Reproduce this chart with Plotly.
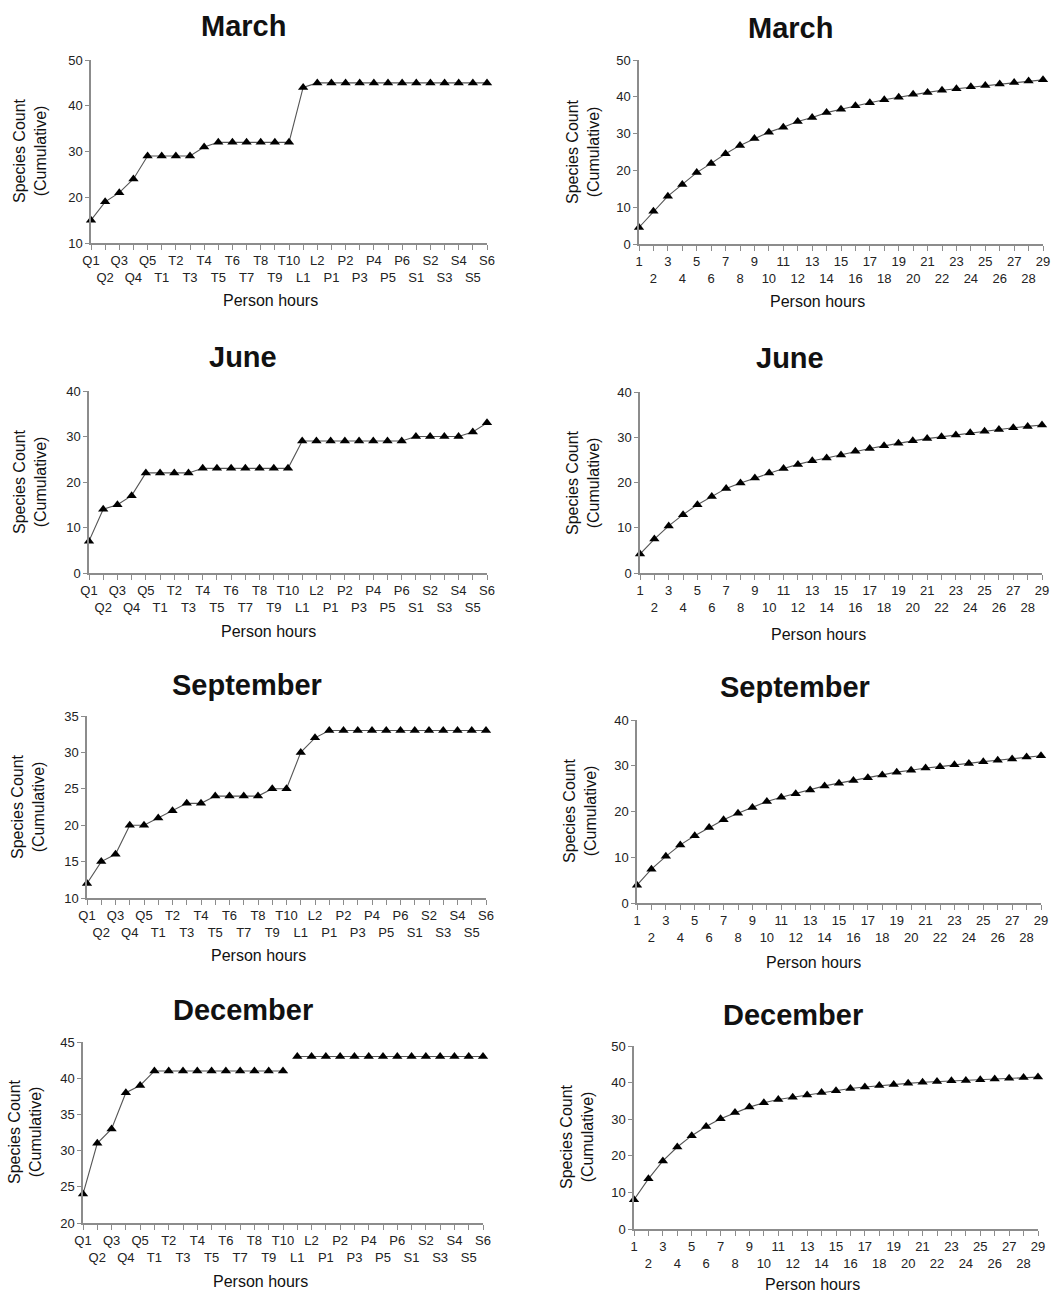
import plotly.graph_objects as go

# ---------------- data ----------------
categories = ["Q1", "Q2", "Q3", "Q4", "Q5",
              "T1", "T2", "T3", "T4", "T5", "T6", "T7", "T8", "T9", "T10",
              "L1", "L2",
              "P1", "P2", "P3", "P4", "P5", "P6",
              "S1", "S2", "S3", "S4", "S5", "S6"]
hours = list(range(1, 30))
months = ["March", "June", "September", "December"]

march_cum = [15, 19, 21, 24, 29, 29, 29, 29, 31, 32, 32, 32, 32, 32, 32,
             44, 45, 45, 45, 45, 45, 45, 45, 45, 45, 45, 45, 45, 45]
june_cum = [7, 14, 15, 17, 22, 22, 22, 22, 23, 23, 23, 23, 23, 23, 23,
            29, 29, 29, 29, 29, 29, 29, 29, 30, 30, 30, 30, 31, 33]
sept_cum = [12, 15, 16, 20, 20, 21, 22, 23, 23, 24, 24, 24, 24, 25, 25,
            30, 32, 33, 33, 33, 33, 33, 33, 33, 33, 33, 33, 33, 33]
dec_cum = [24, 31, 33, 38, 39, 41, 41, 41, 41, 41, 41, 41, 41, 41, 41,
           43, 43, 43, 43, 43, 43, 43, 43, 43, 43, 43, 43, 43, 43]
dec_gap_after = "T10"   # no connecting line between T10 and L1 in December

march_rare = [4.5, 8.9, 13.0, 16.2, 19.4, 21.9, 24.5, 26.8, 28.7, 30.4, 31.7, 33.3,
              34.4, 35.7, 36.6, 37.6, 38.4, 39.2, 39.9, 40.7, 41.2, 41.8, 42.2,
              42.7, 43.1, 43.5, 43.9, 44.3, 44.6]
june_rare = [4.2, 7.5, 10.4, 12.9, 15.1, 16.9, 18.7, 19.9, 21.0, 22.1, 23.1, 24.0,
             24.8, 25.4, 26.1, 26.9, 27.5, 28.1, 28.7, 29.2, 29.7, 30.1, 30.5,
             31.0, 31.3, 31.7, 32.1, 32.4, 32.7]
sept_rare = [3.9, 7.4, 10.2, 12.7, 14.7, 16.5, 18.2, 19.6, 20.9, 22.2, 23.1, 23.9,
             24.7, 25.6, 26.2, 26.8, 27.4, 28.0, 28.6, 29.0, 29.5, 29.8, 30.2,
             30.5, 30.9, 31.2, 31.5, 31.9, 32.2]
dec_rare = [8.0, 13.7, 18.6, 22.4, 25.5, 28.0, 30.1, 31.8, 33.3, 34.5, 35.4, 36.0,
            36.6, 37.3, 37.8, 38.4, 38.8, 39.2, 39.5, 39.8, 40.1, 40.3, 40.5,
            40.6, 40.8, 41.0, 41.2, 41.4, 41.5]

left_ranges = [(10, 50, 10), (0, 40, 10), (10, 35, 5), (20, 45, 5)]
right_ranges = [(0, 50, 10), (0, 40, 10), (0, 40, 10), (0, 50, 10)]

cum_series = [march_cum, june_cum, sept_cum, dec_cum]
rare_series = [march_rare, june_rare, sept_rare, dec_rare]

# ---------------- layout (pixel geometry) ----------------
W, H = 1055, 1295
# (x0, x1, ytop, ybottom, title_xy, xtitle_xy, ytitle_xy)
left_geo = [
    (91, 487, 60, 243, (243, 26), (270, 300), (30, 151)),
    (89, 487, 391, 573, (243, 357), (268, 631), (30, 482)),
    (87, 486, 716, 898, (247, 685), (258, 956), (28, 807)),
    (83, 483, 1042, 1223, (243, 1010), (260, 1281), (25, 1132)),
]
right_geo = [
    (639, 1043, 60, 244, (790, 28), (817, 301), (583, 152)),
    (640, 1042, 392, 573, (790, 358), (818, 634), (583, 483)),
    (637, 1041, 720, 903, (795, 687), (813, 962), (580, 811)),
    (634, 1038, 1046, 1229, (793, 1015), (812, 1284), (577, 1137)),
]

FONT = "Liberation Sans, Arial, sans-serif"
LINE_COL = "#555555"
AXIS_COL = "#8c8c8c"

def alt_text(labels):
    return [str(l) if i % 2 == 0 else "\u00a0<br>" + str(l) for i, l in enumerate(labels)]

fig = go.Figure()
annotations = []
layout_axes = {}

def px_x(p):
    return p / W

def px_y(p):
    return 1 - p / H

def add_panel(idx, geo, xvals, yvals, yr, month, is_cat, breaks=None):
    x0, x1, yt, yb, tpos, xtpos, ytpos = geo
    n = idx + 1
    xa = "x" if n == 1 else f"x{n}"
    ya = "y" if n == 1 else f"y{n}"
    segs = [(0, len(xvals))]
    if breaks is not None:
        k = list(xvals).index(breaks) + 1
        segs = [(0, k), (k, len(xvals))]
    for a, b in segs:
        fig.add_trace(go.Scatter(
            x=xvals[a:b], y=yvals[a:b], xaxis=xa, yaxis=ya, mode="lines",
            line=dict(color=LINE_COL, width=1.1), showlegend=False,
            cliponaxis=False, hoverinfo="skip"))
    fig.add_trace(go.Scatter(
        x=xvals, y=yvals, xaxis=xa, yaxis=ya, mode="markers",
        marker=dict(symbol="triangle-up", size=9, color="black"),
        showlegend=False, cliponaxis=False))
    xkey = "xaxis" if n == 1 else f"xaxis{n}"
    ykey = "yaxis" if n == 1 else f"yaxis{n}"
    xax = dict(domain=[px_x(x0), px_x(x1)], anchor=ya, showgrid=False,
               zeroline=False, showline=True, linecolor=AXIS_COL, linewidth=1.5,
               ticks="outside", ticklen=5, tickcolor=AXIS_COL, tickwidth=1,
               tickfont=dict(family=FONT, size=13, color="#222"),
               tickangle=0, fixedrange=True, automargin=False)
    if is_cat:
        xax.update(type="category", categoryorder="array", categoryarray=list(xvals),
                   range=[0, len(xvals) - 1], tickmode="array",
                   tickvals=list(xvals), ticktext=alt_text(xvals))
    else:
        xax.update(type="linear", range=[xvals[0], xvals[-1]], tickmode="array",
                   tickvals=list(xvals), ticktext=alt_text(xvals))
    yax = dict(domain=[px_y(yb), px_y(yt)], anchor=xa, range=[yr[0], yr[1]],
               dtick=yr[2], tick0=yr[0], showgrid=False, zeroline=False,
               showline=True, linecolor=AXIS_COL, linewidth=1.5,
               ticks="outside", ticklen=4, tickcolor=AXIS_COL,
               tickfont=dict(family=FONT, size=13, color="#222"), fixedrange=True,
               automargin=False)
    layout_axes[xkey] = xax
    layout_axes[ykey] = yax
    annotations.append(dict(text=f"<b>{month}</b>", x=px_x(tpos[0]), y=px_y(tpos[1]),
                            xref="paper", yref="paper", showarrow=False,
                            xanchor="center", yanchor="middle",
                            font=dict(family=FONT, size=29, color="#111")))
    annotations.append(dict(text="Person hours", x=px_x(xtpos[0]), y=px_y(xtpos[1]),
                            xref="paper", yref="paper", showarrow=False,
                            xanchor="center", yanchor="middle",
                            font=dict(family=FONT, size=16, color="#111")))
    annotations.append(dict(text="Species Count<br>(Cumulative)", x=px_x(ytpos[0]),
                            y=px_y(ytpos[1]), xref="paper", yref="paper",
                            showarrow=False, textangle=-90, xanchor="center",
                            yanchor="middle",
                            font=dict(family=FONT, size=16, color="#111")))

for i, m in enumerate(months):
    add_panel(2 * i, left_geo[i], categories, cum_series[i], left_ranges[i], m, True,
              breaks=dec_gap_after if m == "December" else None)
    add_panel(2 * i + 1, right_geo[i], hours, rare_series[i], right_ranges[i], m, False)

fig.update_layout(width=W, height=H,
                  margin=dict(l=0, r=0, t=0, b=0, pad=0, autoexpand=False),
                  paper_bgcolor="white", plot_bgcolor="white",
                  annotations=annotations, **layout_axes)

fig.write_html("out.html", config={"displayModeBar": False},
               post_script="document.body.style.margin='0';")
